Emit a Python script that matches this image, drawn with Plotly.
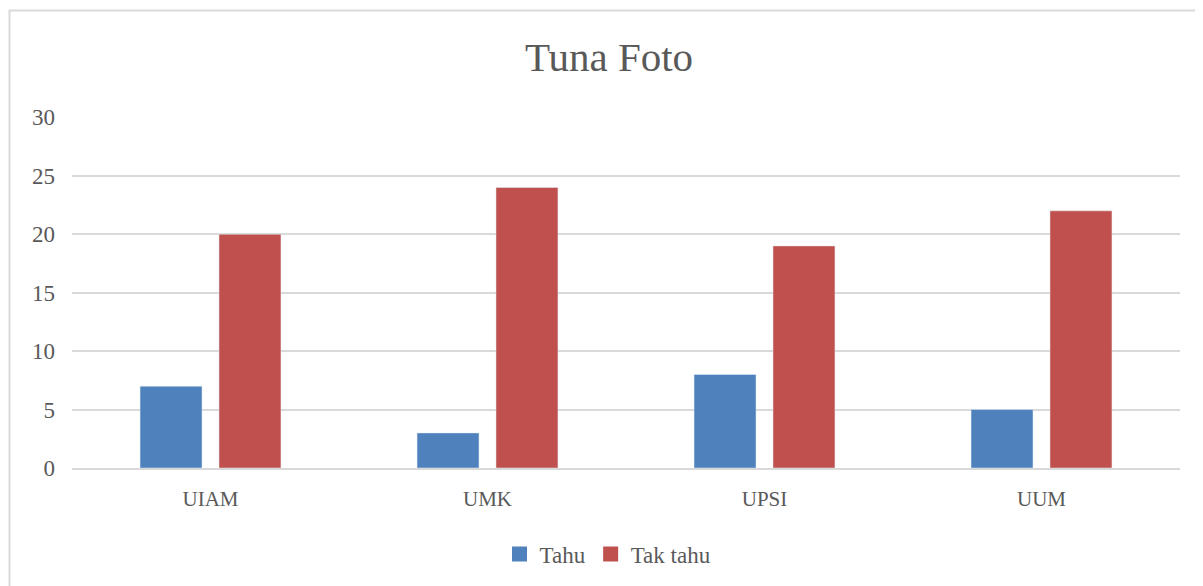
import plotly.graph_objects as go

categories = ["UIAM", "UMK", "UPSI", "UUM"]
tahu = [7, 3, 8, 5]
tak_tahu = [20, 24, 19, 22]
y_ticks = [0, 5, 10, 15, 20, 25, 30]

# page body has an 8px margin, so figure coordinates are shifted
OFF = 8
W, H = 1203, 586
L, R, T, B = 72 - OFF, 23 + OFF, 117 - OFF, 118 + OFF
pw, ph = W - L - R, H - T - B

def px_x(x):  # page pixel -> paper
    return (x - OFF - L) / pw

def px_y(y):
    return (H - B - (y - OFF)) / ph

font_family = "Liberation Serif"
txt = "#595959"
blue, red = "#4F81BD", "#C0504D"

fig = go.Figure()
fig.add_trace(go.Bar(name="Tahu", x=categories, y=tahu, marker_color=blue, showlegend=False))
fig.add_trace(go.Bar(name="Tak tahu", x=categories, y=tak_tahu, marker_color=red, showlegend=False))
# legend entries with larger square symbols
for name, col in [("Tahu", blue), ("Tak tahu", red)]:
    fig.add_trace(go.Scatter(name=name, x=[categories[0]], y=[None], mode="markers",
                             marker=dict(symbol="square", size=15, color=col), showlegend=True))

fig.update_layout(
    width=W, height=H,
    margin=dict(l=L, r=R, t=T, b=B),
    paper_bgcolor="white", plot_bgcolor="white",
    barmode="group", bargap=0.43, bargroupgap=0.215,
    title=dict(text="Tuna Foto", x=px_x(609), xanchor="center", xref="paper",
               y=1 - (57 - OFF) / H, yanchor="middle",
               font=dict(family=font_family, size=41, color=txt)),
    font=dict(family=font_family, color=txt, size=20),
    legend=dict(orientation="h", x=px_x(608), xanchor="center", y=px_y(554), yanchor="middle",
                font=dict(family=font_family, size=23, color=txt), itemwidth=30,
                traceorder="normal"),
    xaxis=dict(showgrid=False, showline=True, linecolor="#D9D9D9", linewidth=2,
               tickfont=dict(family=font_family, size=21, color=txt), ticks="",
               ticklabelstandoff=11),
    yaxis=dict(range=[0, 30.03], tickvals=y_ticks, showgrid=True, gridcolor="#D9D9D9", gridwidth=2,
               zeroline=False, showline=False, ticks="",
               tickfont=dict(family=font_family, size=23, color=txt), ticklabelstandoff=16),
    shapes=[dict(type="rect", xref="paper", yref="paper",
                 x0=px_x(9.5), x1=px_x(1260), y0=px_y(10.5), y1=px_y(700),
                 line=dict(color="#D9D9D9", width=2), fillcolor="rgba(0,0,0,0)", layer="below")],
)

fig.write_html("out.html")
